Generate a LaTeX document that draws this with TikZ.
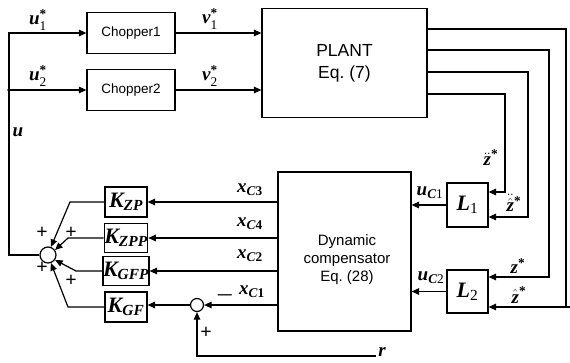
\documentclass[tikz,border=0pt]{standalone}
\usepackage{fontspec}
\usepackage{amsmath}
\setmainfont{Liberation Serif}
\setsansfont{Liberation Sans}
\usetikzlibrary{arrows.meta,calc}
\newcommand\bt[1]{\text{\bfseries\itshape #1}}
\newcommand\st{\text{\bfseries *}}
\begin{document}
\begin{tikzpicture}[x=1pt,y=-1pt,
  ln/.style={line width=1.2pt},
  arr/.style={ln,-{Triangle[length=7.5pt,width=6.5pt]}},
  blk/.style={draw,ln,inner sep=0pt,font=\sffamily\fontsize{13.5}{15}\selectfont},
  kbox/.style={draw,ln,inner sep=0pt,minimum width=42pt,minimum height=30pt,font=\fontsize{22}{22}\selectfont},
  lbl/.style={inner sep=0pt,font=\fontsize{19}{19}\selectfont},
  sm/.style={inner sep=0pt,font=\fontsize{20}{20}\selectfont\bfseries}]
\useasboundingbox (0,0) rectangle (570,362);
% blocks
\node[blk,minimum width=88pt,minimum height=41pt] (ch1) at (131,33) {Chopper1};
\node[blk,minimum width=88pt,minimum height=41pt] (ch2) at (131,90) {Chopper2};
\node[blk,minimum width=165pt,minimum height=109pt,align=center,font=\sffamily\fontsize{17.5}{22}\selectfont] (plant) at (344.5,63) {PLANT\\Eq.~(7)};
\node[blk,minimum width=133pt,minimum height=159pt] (comp) at (344.5,251.5) {};
\node[align=center,inner sep=0pt,font=\sffamily\fontsize{15}{18}\selectfont] (compt) at (347,260) {Dynamic\\compensator\\Eq.~(28)};
\node[kbox,minimum width=41pt,minimum height=44pt] (L1) at (467.5,205) {$\bt{L}_{\text{1}}$};
\node[kbox,minimum width=41pt,minimum height=43pt] (L2) at (467.5,291.5) {$\bt{L}_{\text{2}}$};
\node[kbox] (KZP) at (126,202) {$\bt{K}_{\bt{ZP}}$};
\node[kbox,minimum height=29pt] (KZPP) at (126,238) {$\bt{K}_{\bt{ZPP}}$};
\node[kbox,minimum height=29pt] (KGFP) at (126,271) {$\bt{K}_{\bt{GFP}}$};
\node[kbox] (KGF) at (126,307) {$\bt{K}_{\bt{GF}}$};
\node[draw,ln,circle,fill=white,minimum size=16pt,inner sep=0pt] (sum) at (48,255) {};
\node[draw,ln,circle,fill=white,minimum size=13pt,inner sep=0pt] (sum2) at (197,305) {};
% coordinates
\coordinate (ltop) at (9,33);
\coordinate (ljoin) at (9,90);
\coordinate (lbot) at (9,255);
\coordinate (rr) at (376,356);
% left loop
\draw[arr] (sum.west) -- (lbot) -- (ltop) -- (ch1.west);
\draw[arr] (ljoin) -- (ch2.west);
\fill (ljoin) circle (1.8pt);
\draw[arr] (ch1.east) -- (ch1.east -| plant.west);
\draw[arr] (ch2.east) -- (ch2.east -| plant.west);
% plant outputs
\draw[arr] (plant.east |- 0,29) -- (566,29) -- (566,307) -- (L2.east |- 0,307);
\draw[arr] (plant.east |- 0,50) -- (549,50) -- (549,277) -- (L2.east |- 0,277);
\draw[arr] (plant.east |- 0,72) -- (528,72) -- (528,217) -- (L1.east |- 0,217);
\draw[arr] (plant.east |- 0,94) -- (505,94) -- (505,192) -- (L1.east |- 0,192);
\draw[ln] (566,307) -- (570,307);
% L to compensator
\draw[arr] (L1.west) -- (L1.west -| comp.east);
\draw[arr] (L2.west) -- (L2.west -| comp.east);
% compensator outputs
\draw[arr] (KZP.east -| comp.west) -- (KZP.east);
\draw[arr] (KZPP.east -| comp.west) -- (KZPP.east);
\draw[arr] (KGFP.east -| comp.west) -- (KGFP.east);
\draw[arr] (sum2.east -| comp.west) -- (sum2.east);
\draw[arr] (sum2.west) -- (sum2.west -| KGF.east);
\draw[arr] (rr) -| (sum2.south);
% gains to summing junction
\draw[arr] (KZP.west) -- (70,202) -- (sum.70);
\draw[arr] (KZPP.west) -- (68,238) -- (sum.35);
\draw[arr] (KGFP.west) -- (76,271) -- (sum.-35);
\draw[arr] (KGF.west) -- (68,307) -- (sum.-70);
% labels
\node[lbl] (lu1) at (38,20) {$\bt{u}_{\text{1}}^{\st}$};
\node[lbl] (lu2) at (38,76) {$\bt{u}_{\text{2}}^{\st}$};
\node[lbl] (lv1) at (210,19) {$\bt{v}_{\text{1}}^{\st}$};
\node[lbl] (lv2) at (210,76) {$\bt{v}_{\text{2}}^{\st}$};
\node[lbl] (lu) at (18,132) {$\bt{u}$};
\node[lbl] (lx3) at (250,190) {$\bt{x}_{\bt{C}\text{\bfseries 3}}$};
\node[lbl] (lx4) at (250,224) {$\bt{x}_{\bt{C}\text{\bfseries 4}}$};
\node[lbl] (lx2) at (250,256) {$\bt{x}_{\bt{C}\text{\bfseries 2}}$};
\node[lbl] (lx1) at (252,292) {$\bt{x}_{\bt{C}\text{\bfseries 1}}$};
\node[sm] (lmin) at (225,295) {$\boldsymbol{-}$};
\node[lbl] (luc1) at (430,193) {$\bt{u}_{\bt{C}\text{1}}$};
\node[lbl] (luc2) at (431,278) {$\bt{u}_{\bt{C}\text{2}}$};
\node[lbl] (lz1) at (491,158) {$\ddot{\bt{z}}^{\st}$};
\node[lbl] (lz2) at (514,203) {$\ddot{\mbox{$\hat{\bt{z}}$}}^{\st}$};
\node[lbl] (lz3) at (518,266) {$\bt{z}^{\st}$};
\node[lbl] (lz4) at (519,295) {$\hat{\bt{z}}^{\st}$};
\node[lbl] (lr) at (382,352) {$\bt{r}$};
\node[sm] (p1) at (42,233) {+};
\node[sm] (p2) at (71,233) {+};
\node[sm] (p3) at (42,268) {+};
\node[sm] (p4) at (71,281) {+};
\node[sm] (p5) at (206,333) {+};
\end{tikzpicture}
\end{document}
